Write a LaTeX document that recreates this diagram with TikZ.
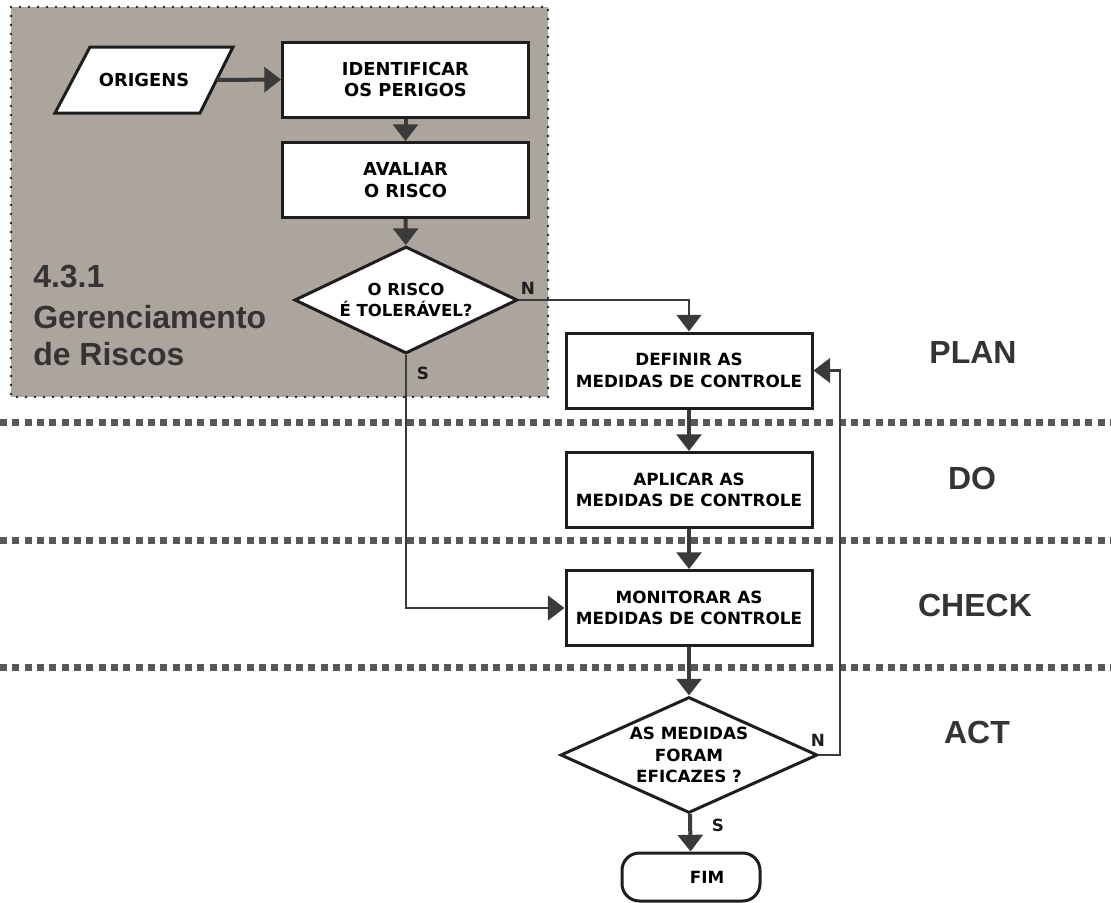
\documentclass[tikz,border=0pt]{standalone}
\usepackage{fontspec}
\usetikzlibrary{arrows.meta,shapes.geometric}
\newfontfamily\chartfont{DejaVu Sans}
\newfontfamily\headfont{Liberation Sans}
\definecolor{panelgray}{RGB}{171,165,158}
\definecolor{ink}{RGB}{30,30,30}
\definecolor{arrowgray}{RGB}{58,58,58}
\definecolor{sepgray}{RGB}{88,88,88}
\definecolor{headgray}{RGB}{52,52,52}

\begin{document}
\begin{tikzpicture}[x=0.75pt,y=-0.75pt,
  boxfont/.style={font=\chartfont\bfseries\fontsize{12.6pt}{16.1pt}\selectfont},
  bigfont/.style={font=\chartfont\bfseries\fontsize{13.4pt}{16.4pt}\selectfont},
  procbox/.style={draw=ink, line width=2.25pt, fill=white, minimum width=184.5pt,
    minimum height=56.25pt, inner sep=0pt, align=center, boxfont},
  decision/.style={diamond, draw=ink, line width=2.25pt, fill=white, inner sep=0pt,
    align=center, boxfont},
  terminal/.style={draw=ink, line width=2.25pt, fill=white, rounded corners=13pt,
    minimum width=103.5pt, minimum height=36pt, inner sep=0pt, boxfont},
  flow/.style={draw=arrowgray, line width=1.9pt, -{Triangle[length=12.5pt,width=18.5pt]}},
  stub/.style={flow, line width=3pt},
  yesno/.style={font=\chartfont\bfseries\fontsize{12.6pt}{14pt}\selectfont, text=ink, inner sep=0pt},
  phase/.style={font=\headfont\bfseries\fontsize{24pt}{28pt}\selectfont, text=headgray, inner sep=0pt},
  paneltitle/.style={font=\headfont\bfseries\fontsize{24pt}{28pt}\selectfont, text=headgray,
    inner sep=0pt, anchor=base west},
  separator/.style={draw=sepgray, line width=5.25pt, dash pattern=on 5.25pt off 4pt},
  paneledge/.style={draw=black!85, line width=2.2pt, line cap=round, dash pattern=on 0pt off 6.75pt}
]
\useasboundingbox (0,0) rectangle (1111,903);

% shaded risk-management panel
\fill[panelgray] (11,7) rectangle (548,397);
\draw[paneledge] (11,7) rectangle (548,397);

% phase separators
\draw[separator] (0,422) -- (1111,422);
\draw[separator] (0,540) -- (1111,540);
\draw[separator] (0,667) -- (1111,667);

% panel title
\node[paneltitle] (sec)  at (33,287) {4.3.1};
\node[paneltitle] (ger)  at (33,328) {Gerenciamento};
\node[paneltitle] (risc) at (33,365) {de Riscos};

% input parallelogram
\draw[draw=ink, line width=2.25pt, fill=white, line join=miter] (55,113) -- (90,47) -- (233,47) -- (200,113) -- cycle;
\node[bigfont, minimum width=108.75pt, minimum height=49.5pt, inner sep=0pt] (origens) at (144,80) {ORIGENS};

% process steps
\node[procbox, bigfont] (ident)   at (405.5,79.5) {IDENTIFICAR\\OS PERIGOS};
\node[procbox, bigfont] (avaliar) at (405.5,180)  {AVALIAR\\O RISCO};
\node[decision, aspect=2.08, minimum width=167.25pt, minimum height=80.25pt,
      font=\chartfont\bfseries\fontsize{12.4pt}{16.4pt}\selectfont] (risco) at (406,300) {O RISCO\\É TOLERÁVEL?};

\node[procbox] (definir)   at (689,370.5) {DEFINIR AS\\MEDIDAS DE CONTROLE};
\node[procbox] (aplicar)   at (689,490)   {APLICAR AS\\MEDIDAS DE CONTROLE};
\node[procbox] (monitorar) at (689,608)   {MONITORAR AS\\MEDIDAS DE CONTROLE};
\node[decision, aspect=2.215, minimum width=192.75pt, minimum height=87pt] (eficaz) at (689,755)
      {AS MEDIDAS\\FORAM\\EFICAZES ?};
\node[terminal] (fim) at (691,877) {\hspace*{24pt}FIM};

% phase names
\node[phase] (plan)  at (973,352) {PLAN};
\node[phase] (do)    at (972,478) {DO};
\node[phase] (check) at (975,605) {CHECK};
\node[phase] (act)   at (977,732) {ACT};

% connectors
\draw[stub] (origens.east) -- (ident.west);
\draw[stub] (ident) -- (avaliar);
\draw[stub] (avaliar) -- (risco);
\draw[flow] (risco.east) -| (definir.north);
\draw[flow] (risco.south) |- (monitorar.west);
\draw[stub] (definir) -- (aplicar);
\draw[stub] (aplicar) -- (monitorar);
\draw[stub] (monitorar) -- (eficaz);
\coordinate (loop) at (840,370.5);
\draw[flow] (eficaz.east) -| (loop) -- (definir.east);
\draw[stub] (eficaz) -- (fim);

% branch labels
\node[yesno] (n1) at (528,288) {N};
\node[yesno] (s1) at (423,373) {S};
\node[yesno] (n2) at (818,740) {N};
\node[yesno] (s2) at (718,825) {S};
\end{tikzpicture}
\end{document}
